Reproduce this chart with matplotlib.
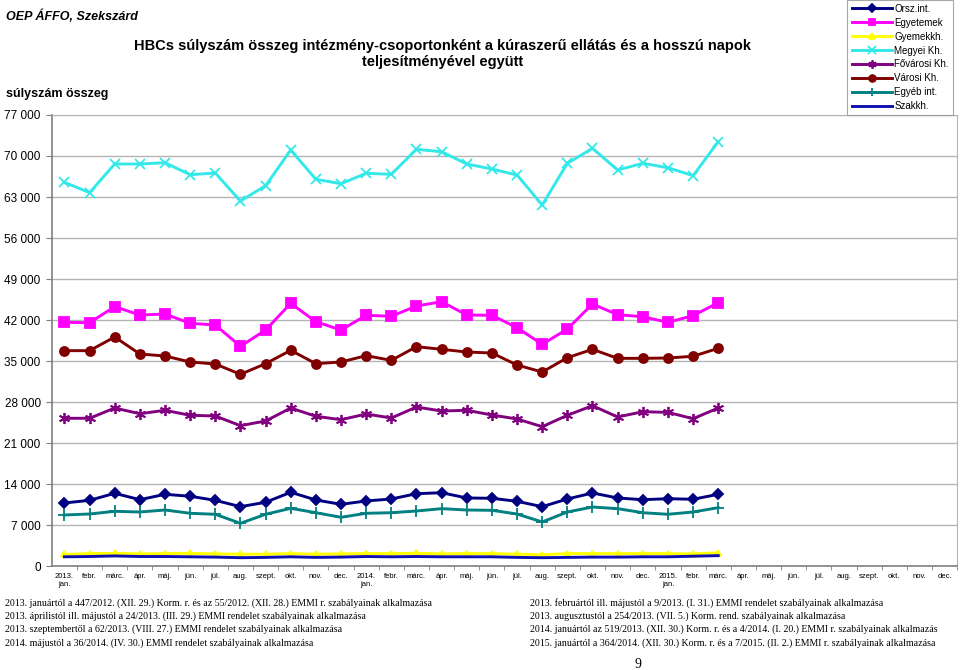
import matplotlib
matplotlib.use('Agg')
import matplotlib.pyplot as plt
import numpy as np

plt.rcParams['font.family'] = ['Liberation Sans', 'DejaVu Sans']

# kategóriák (2013 jan - 2015 dec)
honapok = ['jan.', 'febr.', 'márc.', 'ápr.', 'máj.', 'jún.', 'júl.', 'aug.', 'szept.', 'okt.', 'nov.', 'dec.']
x_labels = []
for ev in ['2013.', '2014.', '2015.']:
	for i, h in enumerate(honapok):
		x_labels.append(f'{ev}\n{h}' if i == 0 else h)

# adatok (2013 jan - 2015 márc, 27 hónap)
orsz_int = [10830, 11280, 12480, 11390, 12310, 11970, 11280, 10200, 10950, 12650, 11340, 10600,
            11170, 11510, 12410, 12580, 11680, 11630, 11110, 10200, 11510, 12530, 11680, 11390,
            11560, 11460, 12310]
egyetemek = [41630, 41570, 44300, 42880, 43050, 41460, 41180, 37540, 40320, 44870, 41740, 40320,
             42830, 42660, 44410, 45150, 42880, 42830, 40720, 37880, 40490, 44760, 42930, 42590,
             41630, 42770, 44980]
gyermekkh = [2050, 2200, 2250, 2150, 2200, 2250, 2150, 2100, 2100, 2200, 2100, 2150,
             2200, 2200, 2250, 2150, 2200, 2200, 2100, 2000, 2200, 2200, 2200, 2200,
             2200, 2150, 2350]
megyei = [65510, 63740, 68630, 68630, 68850, 66800, 67090, 62320, 64930, 71010, 66020, 65270,
          67040, 66870, 71130, 70720, 68630, 67770, 66750, 61640, 68740, 71300, 67600, 68740,
          68000, 66630, 72430]
fovarosi = [25270, 25270, 27020, 26050, 26630, 25780, 25660, 24010, 24810, 27020, 25610, 25030,
            26000, 25320, 27190, 26510, 26630, 25830, 25150, 23840, 25780, 27420, 25490, 26390,
            26280, 25200, 27020]
varosi = [36800, 36800, 39130, 36230, 35890, 34870, 34530, 32770, 34580, 36860, 34580, 34870,
          35950, 35150, 37480, 37030, 36570, 36400, 34360, 33160, 35600, 37030, 35490, 35490,
          35550, 35840, 37200]
egyeb_int = [8780, 8950, 9410, 9290, 9630, 9070, 8900, 7360, 8900, 9920, 9170, 8390,
             9070, 9170, 9460, 9860, 9630, 9580, 8950, 7590, 9290, 10140, 9860, 9170,
             8900, 9290, 10030]
szakkh = [1650, 1700, 1800, 1700, 1700, 1650, 1600, 1500, 1550, 1650, 1550, 1600,
          1700, 1650, 1700, 1650, 1650, 1650, 1550, 1500, 1550, 1600, 1600, 1650,
          1650, 1750, 1850]

y_ticks = list(range(0, 77001, 7000))

series = [
	('Orsz.int.', orsz_int, '#000080', 'D', 5.5),
	('Egyetemek', egyetemek, '#FF00FF', 's', 6.5),
	('Gyemekkh.', gyermekkh, '#FFFF00', '^', 5),
	('Megyei Kh.', megyei, '#33E8E8', 'x', 7),
	('Fővárosi Kh.', fovarosi, '#800080', (6, 2, 0), 8),
	('Városi Kh.', varosi, '#800000', 'o', 6.5),
	('Egyéb int.', egyeb_int, '#008080', '+', 8),
	('Szakkh.', szakkh, '#1010B0', None, 0),
]

fig = plt.figure(figsize=(9.6, 6.7), dpi=100)
ax = fig.add_axes([0.054, 0.1545, 0.943, 0.674])

x = np.arange(len(orsz_int))
for name, vals, col, mk, ms in series:
	ax.plot(x, vals, color=col, lw=2.1, marker=mk, markersize=ms, markeredgewidth=1.3,
	        markerfacecolor=col, markeredgecolor=col, label=name, zorder=3)

ax.set_xlim(-0.5, len(x_labels) - 0.5)
ax.set_ylim(0, 77000)
ax.set_yticks(y_ticks)
ax.set_yticklabels([f'{v:,}'.replace(',', ' ') for v in y_ticks], fontsize=8.5)
ax.set_xticks(np.arange(len(x_labels)))
ax.set_xticklabels(x_labels, fontsize=5.5, linespacing=1.1)
ax.set_xticks(np.arange(len(x_labels)) + 0.5, minor=True)
ax.tick_params(axis='x', which='major', length=0, pad=5)
ax.tick_params(axis='x', which='minor', length=3, color='#808080')
ax.tick_params(axis='y', length=4, color='#808080', pad=4)
ax.grid(axis='y', color='#b4b4b4', lw=1)
ax.set_axisbelow(True)
for s in ['top', 'right']:
	ax.spines[s].set_color('#b4b4b4')
for s in ['left', 'bottom']:
	ax.spines[s].set_color('#808080')
	ax.spines[s].set_linewidth(1.2)

leg = fig.legend(loc='upper right', bbox_to_anchor=(0.998, 1.008), fontsize=7, frameon=True,
                 fancybox=False, edgecolor='#909090', handlelength=4.2, labelspacing=0.4,
                 borderpad=0.45, handletextpad=0.2, markerscale=0.75)
leg.get_frame().set_linewidth(0.8)

fig.text(0.006, 0.986, 'OEP ÁFFO, Szekszárd', fontsize=9, fontweight='bold', style='italic', va='top')
fig.text(0.461, 0.942, 'HBCs súlyszám összeg intézmény-csoportonként a kúraszerű ellátás és a hosszú napok\nteljesítményével együtt',
         fontsize=10.5, fontweight='bold', ha='center', va='top', linespacing=1.15)
fig.text(0.006, 0.86, 'súlyszám összeg', fontsize=9, fontweight='bold', va='center')

# lábjegyzetek
bal = ['2013. januártól a 447/2012. (XII. 29.) Korm. r. és az 55/2012. (XII. 28.) EMMI r. szabályainak alkalmazása',
       '2013. áprilistól ill. májustól a 24/2013. (III. 29.) EMMI rendelet szabályainak alkalmazása',
       '2013. szeptembertől a 62/2013. (VIII. 27.) EMMI rendelet szabályainak alkalmazása',
       '2014. májustól a 36/2014. (IV. 30.) EMMI rendelet szabályainak alkalmazása']
jobb = ['2013. februártól ill. májustól a 9/2013. (I. 31.) EMMI rendelet szabályainak alkalmazása',
        '2013. augusztustól a 254/2013. (VII. 5.) Korm. rend. szabályainak alkalmazása',
        '2014. januártól az 519/2013. (XII. 30.) Korm. r. és a 4/2014. (I. 20.) EMMI r. szabályainak alkalmazás',
        '2015. januártól a 364/2014. (XII. 30.) Korm. r. és a 7/2015. (II. 2.) EMMI r. szabályainak alkalmazása']
for i, t in enumerate(bal):
	fig.text(0.005, 1 - (603 + i * 13.3) / 670, t, fontsize=7.1, family='Liberation Serif', va='center')
for i, t in enumerate(jobb):
	fig.text(0.552, 1 - (603 + i * 13.3) / 670, t, fontsize=7.1, family='Liberation Serif', va='center')
fig.text(0.665, 1 - 664 / 670, '9', fontsize=10, family='Liberation Serif', ha='center', va='center')

plt.savefig('out.png', dpi=100)
